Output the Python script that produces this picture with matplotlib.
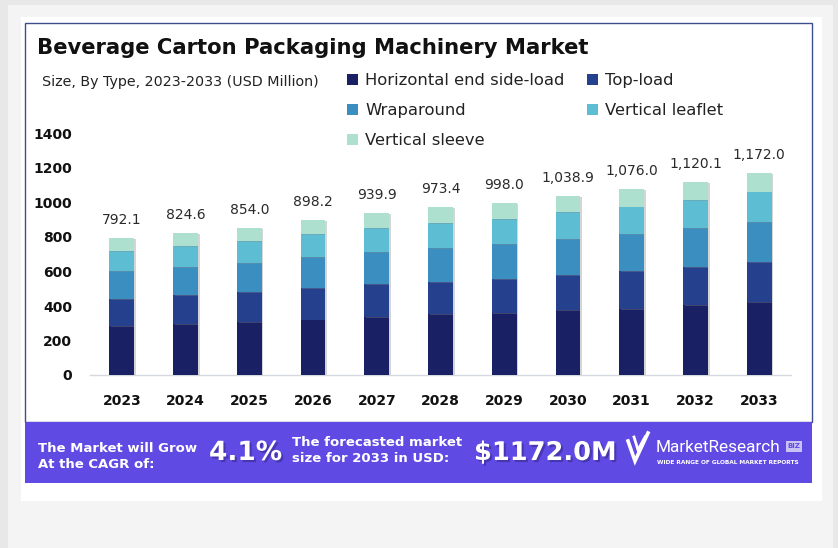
import matplotlib
matplotlib.use('Agg')
import matplotlib.pyplot as plt
from matplotlib.patches import Rectangle, Patch
from matplotlib.lines import Line2D
import matplotlib.patheffects as pe
import numpy as np

# ---------------- data ----------------
years = ['2023', '2024', '2025', '2026', '2027', '2028', '2029', '2030', '2031', '2032', '2033']
totals = [792.1, 824.6, 854.0, 898.2, 939.9, 973.4, 998.0, 1038.9, 1076.0, 1120.1, 1172.0]
horizontal_end_side_load = [284, 297, 305, 321, 336, 354, 361, 375, 384, 406, 423]
top_load = [158, 165, 176, 183, 190, 187, 196, 205, 217, 218, 232]
wraparound = [161, 162, 166, 178, 185, 197, 201, 210, 216, 228, 230]
vertical_leaflet = [117, 124, 128, 135, 143, 145, 146, 153, 159, 164, 178]
vertical_sleeve = [72.1, 76.6, 79.0, 81.2, 85.9, 90.4, 94.0, 95.9, 100.0, 104.1, 109.0]
series_names = ['Horizontal end side-load', 'Top-load', 'Wraparound', 'Vertical leaflet', 'Vertical sleeve']
y_ticks = [0, 200, 400, 600, 800, 1000, 1200, 1400]

colors = ['#1a2064', '#25418e', '#3b8fc0', '#5dbdd3', '#aee0cf']

W, H = 838, 548
fig = plt.figure(figsize=(W / 100, H / 100), dpi=100)
fig.patch.set_facecolor('#f4f4f4')

def fx(x):
    return x / W

def fy(y):
    return 1 - y / H

def frect(x0, y0, x1, y1, **kw):
    r = Rectangle((fx(x0), fy(y1)), fx(x1) - fx(x0), fy(y0) - fy(y1),
                  transform=fig.transFigure, **kw)
    fig.add_artist(r)
    return r

# background layers
frect(0, 0, 8, 548, facecolor='#e8e8e8', edgecolor='none', zorder=0)
frect(0, 0, 838, 5, facecolor='#e8e8e8', edgecolor='none', zorder=0)
frect(833, 0, 838, 548, facecolor='#e8e8e8', edgecolor='none', zorder=0)
frect(21, 17, 822, 501, facecolor='white', edgecolor='none', zorder=0.5)
frect(25, 23, 812, 422, facecolor='white', edgecolor='#3a4f8c', linewidth=1.0, zorder=0.6)
frect(25, 422, 812, 483, facecolor='#5f4ae4', edgecolor='none', zorder=0.7)

# ---------------- axes ----------------
ax = fig.add_axes([fx(90), fy(375), fx(791) - fx(90), fy(133.5) - fy(375)])
ax.set_zorder(2)
ax.set_facecolor('none')
x = np.arange(len(years))
bottom = np.zeros(len(years))
series = [horizontal_end_side_load, top_load, wraparound, vertical_leaflet, vertical_sleeve]
for vals, name, c in zip(series, series_names, colors):
    bars = ax.bar(x, vals, width=0.39, bottom=bottom, color=c, label=name, zorder=3)
    for b in bars:
        b.set_path_effects([pe.SimplePatchShadow(offset=(1.2, -0.6), shadow_rgbFace='#888888', alpha=0.35),
                            pe.Normal()])
    bottom = bottom + np.array(vals)

for xi, t in zip(x, totals):
    ax.annotate(f'{t:,.1f}', (xi, t), xytext=(0, 8), textcoords='offset points',
                ha='center', va='bottom', fontsize=10, color='#2a2a2a')

ax.set_xlim(-0.5, len(years) - 0.5)
ax.set_ylim(0, 1400)
ax.set_yticks(y_ticks)
ax.set_yticklabels([str(v) for v in y_ticks], fontsize=10, fontweight='bold', color='#111111')
ax.set_xticks(x)
ax.set_xticklabels(years, fontsize=10, fontweight='bold', color='#111111')
ax.tick_params(axis='both', length=0)
ax.tick_params(axis='y', pad=13)
ax.tick_params(axis='x', pad=14)
for s in ['top', 'right', 'left']:
    ax.spines[s].set_visible(False)
ax.spines['bottom'].set_color('#d5d8de')
ax.spines['bottom'].set_linewidth(1.0)

# ---------------- titles ----------------
fig.text(fx(37), fy(48), 'Beverage Carton Packaging Machinery Market', fontsize=15.2,
         fontweight='bold', color='#111111', ha='left', va='center')
fig.text(fx(42), fy(82), 'Size, By Type, 2023-2033 (USD Million)', fontsize=10.3,
         color='#222222', ha='left', va='center')

# ---------------- legend ----------------
order = [0, 2, 4, 1, 3]
proxies = [Patch(facecolor=colors[i], edgecolor='none') for i in order]
leg = fig.legend(proxies, [series_names[i] for i in order],
                 loc='upper left', bbox_to_anchor=(fx(347), fy(73)), ncol=2, frameon=False,
                 fontsize=11.8, handlelength=0.65, handleheight=0.65, handletextpad=0.45,
                 labelspacing=0.92, columnspacing=1.4, borderaxespad=0, borderpad=0)
leg.set_zorder(5)
for t in leg.get_texts():
    t.set_color('#222222')

# ---------------- banner ----------------
shadow = [pe.SimplePatchShadow(offset=(1.5, -1.5), shadow_rgbFace='#2a1f70', alpha=0.45), pe.Normal()]
fig.text(fx(38), fy(456), 'The Market will Grow\nAt the CAGR of:', fontsize=9.5, fontweight='bold',
         color='white', ha='left', va='center', linespacing=1.3)
fig.text(fx(209), fy(453), '4.1%', fontsize=19, fontweight='bold', color='white',
         ha='left', va='center', path_effects=shadow)
fig.text(fx(292), fy(451), 'The forecasted market\nsize for 2033 in USD:', fontsize=9.5, fontweight='bold',
         color='white', ha='left', va='center', linespacing=1.3)
fig.text(fx(474), fy(453), '$1172.0M', fontsize=18.5, fontweight='bold', color='white',
         ha='left', va='center', path_effects=shadow)

# logo
for pts, lw in [([(628, 441), (635, 461), (648, 433)], 2.6), ([(634, 437), (638, 450), (645, 437)], 2.0)]:
    xs = [fx(p[0]) for p in pts]
    ys = [fy(p[1]) for p in pts]
    fig.add_artist(Line2D(xs, ys, transform=fig.transFigure, color='white', lw=lw,
                          solid_joinstyle='miter'))
fig.text(fx(656), fy(447), 'MarketResearch', fontsize=12.4, color='white', ha='left', va='center',
         family=['Roboto', 'DejaVu Sans'])
frect(786, 441, 802, 452, facecolor='#c9c3f3', edgecolor='none', zorder=1)
fig.text(fx(794), fy(446.5), 'BIZ', fontsize=5, color='#5f4ae4', fontweight='bold',
         ha='center', va='center')
fig.text(fx(657), fy(463), 'WIDE RANGE OF GLOBAL MARKET REPORTS', fontsize=4.2, color='white',
         fontweight='bold', ha='left', va='center')

fig.savefig('out.png', dpi=100, facecolor=fig.get_facecolor())
